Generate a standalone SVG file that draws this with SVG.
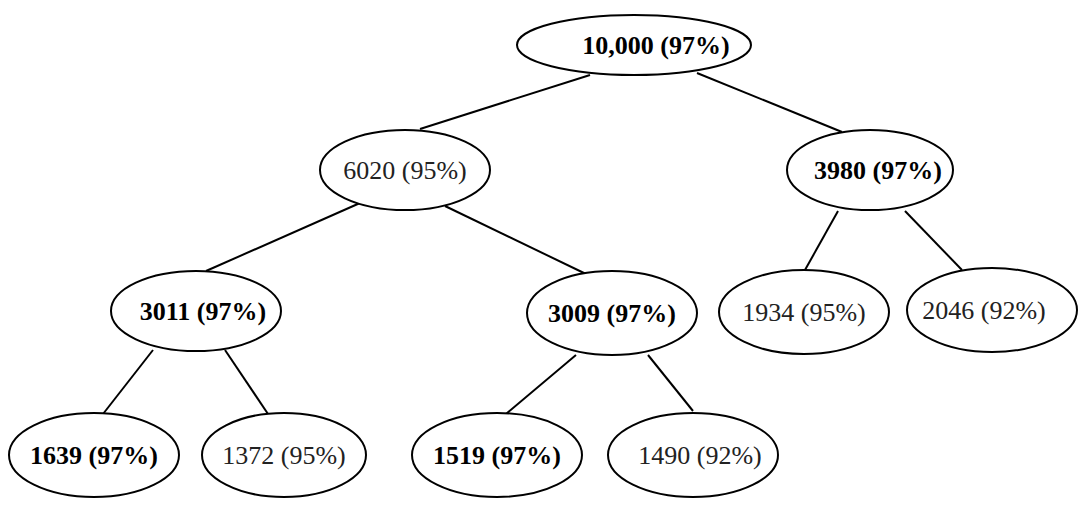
<svg xmlns="http://www.w3.org/2000/svg" width="1080" height="511" viewBox="0 0 1080 511">
<style>
ellipse{fill:#fff;stroke:#000;stroke-width:2}
line{stroke:#000;stroke-width:2}
text{font-family:"Liberation Serif",serif;font-size:26px;text-anchor:middle;dominant-baseline:central;fill:#222}
.b{font-weight:bold;fill:#000}
</style>
<rect width="1080" height="511" fill="#fff"/>
<g id="connectors">
<line x1="590" y1="75" x2="420" y2="129"/>
<line x1="697" y1="73" x2="842" y2="132"/>
<line x1="360" y1="203" x2="206" y2="271"/>
<line x1="445" y1="206" x2="586" y2="274"/>
<line x1="838" y1="211" x2="805" y2="270"/>
<line x1="905" y1="211" x2="962" y2="270"/>
<line x1="153" y1="350" x2="103" y2="414"/>
<line x1="225" y1="350" x2="268" y2="414"/>
<line x1="576" y1="355" x2="506" y2="414"/>
<line x1="648" y1="355" x2="693" y2="411"/>
</g>
<g id="n1"><ellipse cx="634" cy="45" rx="117" ry="30"/><text x="656" y="45" class="b">10,000 (97%)</text></g>
<g id="n2"><ellipse cx="405" cy="170" rx="85" ry="40"/><text x="405" y="170">6020 (95%)</text></g>
<g id="n3"><ellipse cx="870" cy="170" rx="83" ry="40"/><text x="878" y="170" class="b">3980 (97%)</text></g>
<g id="n4"><ellipse cx="196" cy="311" rx="85" ry="40"/><text x="203" y="311" class="b">3011 (97%)</text></g>
<g id="n5"><ellipse cx="612" cy="313" rx="85" ry="42"/><text x="612" y="313" class="b">3009 (97%)</text></g>
<g id="n6"><ellipse cx="804" cy="312" rx="85" ry="42"/><text x="804" y="312">1934 (95%)</text></g>
<g id="n7"><ellipse cx="992" cy="310" rx="85" ry="42"/><text x="984" y="310">2046 (92%)</text></g>
<g id="n8"><ellipse cx="94" cy="455" rx="85" ry="42"/><text x="94" y="455" class="b">1639 (97%)</text></g>
<g id="n9"><ellipse cx="284" cy="455" rx="82" ry="42"/><text x="284" y="455">1372 (95%)</text></g>
<g id="n10"><ellipse cx="497" cy="455" rx="85" ry="42"/><text x="497" y="455" class="b">1519 (97%)</text></g>
<g id="n11"><ellipse cx="693" cy="455" rx="85" ry="42"/><text x="700" y="455">1490 (92%)</text></g>
</svg>
